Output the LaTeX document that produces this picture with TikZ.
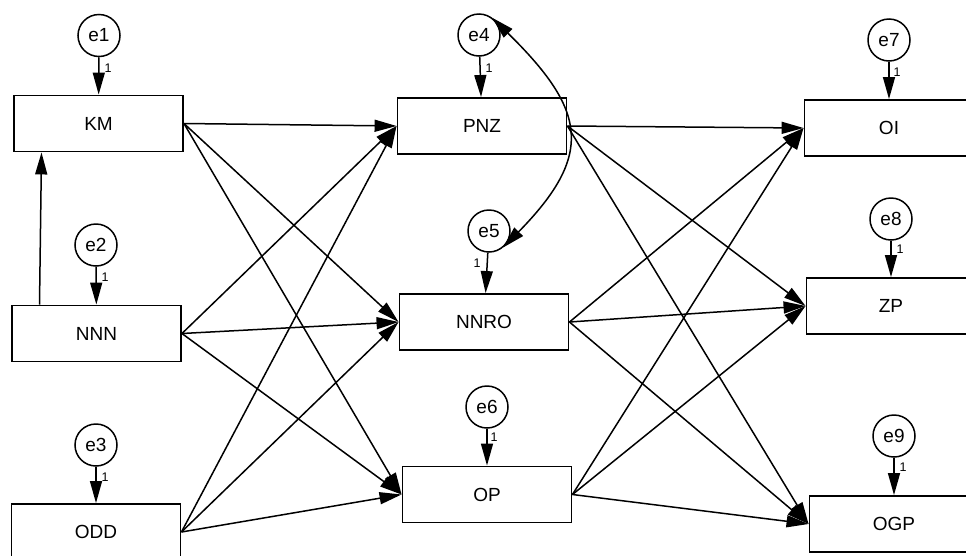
\documentclass[tikz,border=0pt]{standalone}
\usepackage{fontspec}
\setmainfont{Liberation Sans}
\usetikzlibrary{arrows.meta}
\begin{document}
\begin{tikzpicture}[x=1pt,y=-1pt,
  var/.style={draw, line width=1.9pt, minimum width=169pt, minimum height=56pt,
    inner sep=0pt, font=\fontsize{19}{21}\selectfont},
  err/.style={draw, circle, line width=1.5pt, minimum size=42pt, inner sep=0pt,
    font=\fontsize{19}{21}\selectfont},
  causal/.style={line width=1.5pt, -{Triangle[length=22pt,width=12pt]}},
  cov/.style={line width=1.5pt, {Triangle[length=22pt,width=12pt]}-{Triangle[length=22pt,width=12pt]}},
  lbl/.style={inner sep=0pt, font=\fontsize{12.5}{14}\selectfont}]
\useasboundingbox (0,0) rectangle (966,555);
\clip (0,0) rectangle (966,555);
\fill[white] (0,0) rectangle (966,555);

% observed variables
\node[var] (KM)   at (98.5,123.5) {KM};
\node[var] (NNN)  at (96.5,333.5) {NNN};
\node[var] (ODD)  at (96,532)     {ODD};
\node[var] (PNZ)  at (482,126)    {PNZ};
\node[var] (NNRO) at (484,322)    {NNRO};
\node[var] (OP)   at (487,494.5)  {OP};
\node[var] (OI)   at (889,128)    {OI};
\node[var] (ZP)   at (891,306)    {ZP};
\node[var] (OGP)  at (894,524)    {OGP};

% error terms
\node[err] (e1) at (99,35.5) {e1};
\node[err] (e2) at (96,245)  {e2};
\node[err] (e3) at (96,445)  {e3};
\node[err] (e4) at (479,35)  {e4};
\node[err] (e5) at (489,231) {e5};
\node[err] (e6) at (487,407) {e6};
\node[err] (e7) at (889,40)  {e7};
\node[err] (e8) at (891,219) {e8};
\node[err] (e9) at (894,436) {e9};

% error paths fixed to 1
\foreach \e/\v in {e1/KM,e2/NNN,e3/ODD,e4/PNZ,e5/NNRO,e6/OP,e7/OI,e8/ZP,e9/OGP}
  \draw[causal] (\e) -- (\v);
\node[lbl] (l1) at (108,68)  {1};
\node[lbl] (l2) at (105,277) {1};
\node[lbl] (l3) at (105,477) {1};
\node[lbl] (l4) at (489,68)  {1};
\node[lbl] (l5) at (477,263) {1};
\node[lbl] (l6) at (494,437) {1};
\node[lbl] (l7) at (897,72)  {1};
\node[lbl] (l8) at (900,249) {1};
\node[lbl] (l9) at (903,467) {1};

% structural paths
\draw[causal] ([xshift=-57pt]NNN.north) -- ([xshift=-57pt]KM.south);
\foreach \s in {KM,NNN,ODD}
  \foreach \t in {PNZ,NNRO,OP}
    \draw[causal] (\s.east) -- (\t.west);
\foreach \s in {PNZ,NNRO,OP}
  \foreach \t in {OI,ZP,OGP}
    \draw[causal] (\s.east) -- (\t.west);

% covariance between e4 and e5
\draw[cov] (e4.52) .. controls (586,110) and (595,154) .. (e5.-49);
\end{tikzpicture}
\end{document}
